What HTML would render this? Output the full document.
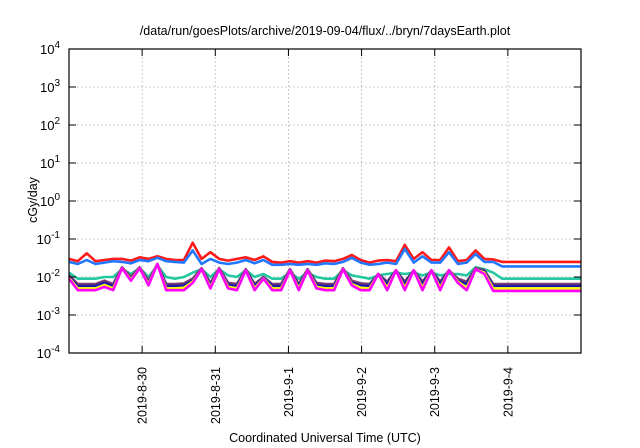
<!DOCTYPE html>
<html><head><meta charset="utf-8"><style>
body{margin:0;background:#fff;}
svg{display:block;font-family:"Liberation Sans",sans-serif;}
</style></head><body>
<svg id="chart" width="640" height="448" viewBox="0 0 640 448" xmlns="http://www.w3.org/2000/svg">
<rect width="640" height="448" fill="#fff"/>
<text x="325" y="35" font-size="12.5" text-anchor="middle">/data/run/goesPlots/archive/2019-09-04/flux/../bryn/7daysEarth.plot</text>
<text transform="translate(37,200) rotate(-90)" font-size="12.5" text-anchor="middle">cGy/day</text>
<text x="325" y="442" font-size="12.5" text-anchor="middle">Coordinated Universal Time (UTC)</text>
<g id="grid"></g><g id="series"></g><g id="axes"></g>
</svg>
<script>
const dateLabels=["2019-8-30","2019-8-31","2019-9-1","2019-9-2","2019-9-3","2019-9-4"];
const dateHours=[24,48,72,96,120,144];
const yExps=[4,3,2,1,0,-1,-2,-3,-4];
const hours=[0,2.9,5.8,8.7,11.6,14.5,17.4,20.3,23.2,26.1,29,31.9,34.8,37.7,40.6,43.5,46.4,49.3,52.2,55.1,58,60.9,63.8,66.7,69.6,72.5,75.4,78.3,81.2,84.1,87,89.9,92.8,95.7,98.6,101.5,104.4,107.3,110.2,113.1,116,118.9,121.8,124.7,127.6,130.5,133.4,136.3,139.2,142.1,145,148,151,154,157,160];
const redVals=[0.03,0.026,0.042,0.026,0.028,0.03,0.03,0.027,0.033,0.03,0.035,0.03,0.028,0.028,0.08,0.03,0.045,0.03,0.027,0.03,0.033,0.028,0.035,0.025,0.024,0.026,0.024,0.026,0.024,0.027,0.026,0.03,0.038,0.028,0.024,0.027,0.028,0.026,0.07,0.03,0.045,0.028,0.028,0.06,0.026,0.028,0.05,0.03,0.029,0.025,0.025];
const blueVals=[0.025,0.022,0.028,0.022,0.024,0.026,0.025,0.023,0.028,0.026,0.032,0.026,0.025,0.024,0.05,0.022,0.03,0.024,0.022,0.024,0.028,0.023,0.028,0.021,0.021,0.022,0.021,0.022,0.021,0.023,0.022,0.025,0.032,0.024,0.021,0.022,0.024,0.022,0.055,0.024,0.035,0.024,0.024,0.045,0.022,0.024,0.04,0.025,0.025,0.019,0.019];
const tealVals=[0.013,0.009,0.009,0.009,0.01,0.01,0.016,0.012,0.017,0.01,0.02,0.01,0.009,0.01,0.013,0.016,0.01,0.016,0.011,0.01,0.015,0.01,0.012,0.009,0.009,0.013,0.009,0.013,0.01,0.009,0.009,0.015,0.011,0.01,0.009,0.011,0.012,0.013,0.012,0.013,0.011,0.013,0.011,0.012,0.012,0.011,0.018,0.016,0.013,0.009,0.009];
const purpleVals=[0.011,0.0065,0.0065,0.0065,0.008,0.0065,0.018,0.01,0.018,0.008,0.022,0.0065,0.0065,0.0068,0.009,0.017,0.007,0.017,0.007,0.0065,0.016,0.0065,0.01,0.0065,0.0065,0.016,0.0065,0.016,0.007,0.0065,0.0065,0.017,0.008,0.0068,0.0065,0.012,0.0075,0.015,0.0075,0.015,0.0075,0.015,0.0075,0.015,0.009,0.0075,0.017,0.015,0.0065,0.0065];
const navyVals=[0.01,0.0058,0.0058,0.0058,0.007,0.0058,0.017,0.009,0.017,0.007,0.022,0.0058,0.0058,0.006,0.008,0.016,0.0062,0.016,0.0062,0.0058,0.015,0.0058,0.0095,0.0058,0.0058,0.015,0.0058,0.015,0.0062,0.0058,0.0058,0.016,0.007,0.006,0.0058,0.012,0.0065,0.015,0.0065,0.015,0.0065,0.015,0.0065,0.015,0.008,0.0065,0.016,0.014,0.0058,0.0058];
const yellowVals=[0.0095,0.005,0.005,0.005,0.0062,0.005,0.017,0.0085,0.017,0.0065,0.022,0.005,0.005,0.0052,0.0075,0.016,0.0055,0.016,0.0055,0.005,0.015,0.005,0.0092,0.005,0.005,0.015,0.005,0.015,0.0055,0.005,0.005,0.016,0.0065,0.0052,0.005,0.012,0.0052,0.015,0.0052,0.015,0.0052,0.015,0.0052,0.015,0.0075,0.0052,0.016,0.013,0.005,0.005];
const magentaVals=[0.009,0.0045,0.0045,0.0045,0.0055,0.0045,0.017,0.008,0.017,0.006,0.022,0.0045,0.0045,0.0045,0.007,0.016,0.005,0.016,0.005,0.0045,0.015,0.0045,0.009,0.0045,0.0045,0.015,0.0045,0.015,0.005,0.0045,0.0045,0.016,0.006,0.0045,0.0045,0.012,0.0045,0.015,0.0045,0.015,0.0045,0.015,0.0045,0.015,0.007,0.0045,0.016,0.012,0.0043,0.0043];
const seriesVals=[redVals,blueVals,tealVals,purpleVals,navyVals,yellowVals,magentaVals];
const seriesNames=["series-red","series-blue","series-teal","series-purple","series-navy","series-yellow","series-magenta"];
const seriesColors=["#ff1a1a","#2277ff","#22c8a0","#7a3a70","#1a1ab0","#ffff00","#ff00ff"];
const L=69,R=581,T=49,B=353,H0=0,H1=168;
const xS=h=>L+(h-H0)/(H1-H0)*(R-L);
const yS=v=>T+(4-Math.log10(v))/8*(B-T);
const NS="http://www.w3.org/2000/svg";
const mk=(t,a,p)=>{const e=document.createElementNS(NS,t);for(const k in a)e.setAttribute(k,a[k]);p.appendChild(e);return e;};
const grid=document.getElementById('grid'),ser=document.getElementById('series'),ax=document.getElementById('axes');
yExps.forEach(e=>{
  const y=yS(Math.pow(10,e));
  if(e<4&&e>-4){const g=mk('line',{x1:L,x2:R,y1:y,y2:y,stroke:'#aaa','stroke-width':0.8,'stroke-dasharray':'1.5,2.5'},grid);
  
  }
  const t1=mk('line',{x1:L,x2:L+7,y1:y,y2:y,stroke:'#000'},ax);
  
  
  const t2=mk('line',{x1:R-7,x2:R,y1:y,y2:y,stroke:'#000'},ax);
  
  
  const tx=mk('text',{x:60,y:y+5,'font-size':13,'text-anchor':'end'},ax);
  
  
  tx.textContent='10';
  const sp=mk('tspan',{dy:-6,'font-size':10},tx);sp.textContent=String(e);
});
dateHours.forEach((h,i)=>{
  const x=xS(h);
  const g=mk('line',{x1:x,x2:x,y1:T,y2:B,stroke:'#aaa','stroke-width':0.8,'stroke-dasharray':'1.5,2.5'},grid);
  
  
  const t1=mk('line',{x1:x,x2:x,y1:B,y2:B-7,stroke:'#000'},ax);
  
  
  const t2=mk('line',{x1:x,x2:x,y1:T,y2:T+7,stroke:'#000'},ax);
  
  
  const tx=mk('text',{transform:`translate(${x+4.5},${B+14}) rotate(-90)`,'font-size':12.5,'text-anchor':'end'},ax);
  
  
  tx.textContent=dateLabels[i];
});
seriesVals.forEach((vals,s)=>{
  const n=vals.length;
  const pts=[];
  for(let i=0;i<n;i++){pts.push([xS(hours[i]),yS(vals[i])]);}
  pts.push([xS(H1),yS(vals[n-1])]);
  const d=pts.map((p,i)=>(i?'L':'M')+p[0].toFixed(1)+','+p[1].toFixed(1)).join(' ');
  const p=mk('path',{d:d,fill:'none',stroke:seriesColors[s],'stroke-width':2.6,'stroke-linejoin':'round'},ser);
  
  
});
const fr=mk('rect',{x:L,y:T,width:R-L,height:B-T,fill:'none',stroke:'#000','stroke-width':1.2},ax);


</script>
</body></html>
